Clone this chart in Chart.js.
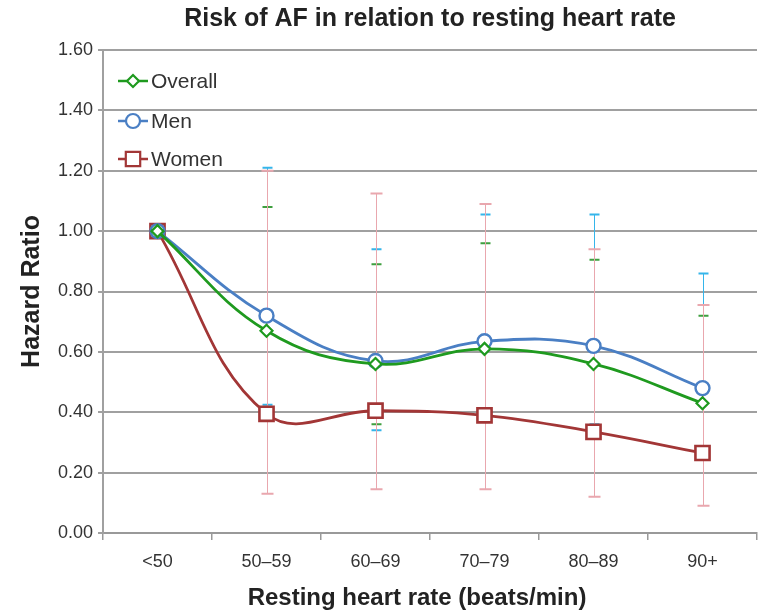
<!DOCTYPE html>
<html>
<head>
<meta charset="utf-8">
<script src="https://cdn.jsdelivr.net/npm/chart.js@4.4.1/dist/chart.umd.min.js"></script>
<style>
html,body{margin:0;padding:0;background:#fff;}
#wrap{width:763px;height:611px;position:relative;}
</style>
</head>
<body>
<div id="wrap"><canvas id="c" width="763" height="611"></canvas></div>
<script>
const categories = ['<50', '50\u201359', '60\u201369', '70\u201379', '80\u201389', '90+'];
const overall = [1.00, 0.67, 0.56, 0.61, 0.56, 0.43];
const men = [1.00, 0.72, 0.57, 0.635, 0.62, 0.48];
const women = [1.00, 0.395, 0.405, 0.39, 0.335, 0.265];
const overallUpper = [null, 1.08, 0.89, 0.96, 0.905, 0.72];
const overallLower = [null, 0.41, 0.36, 0.39, 0.345, 0.25];
const menUpper = [null, 1.21, 0.94, 1.055, 1.055, 0.86];
const menLower = [null, 0.425, 0.34, 0.39, 0.36, 0.27];
const womenUpper = [null, 1.20, 1.125, 1.09, 0.94, 0.755];
const womenLower = [null, 0.13, 0.145, 0.145, 0.12, 0.09];
const yTicks = [0, 0.2, 0.4, 0.6, 0.8, 1.0, 1.2, 1.4, 1.6];
const chartTitle = 'Risk of AF in relation to resting heart rate';
const xTitle = 'Resting heart rate (beats/min)';
const yTitle = 'Hazard Ratio';

const FONT = "'Liberation Sans', Arial, sans-serif";

const errorBars = [
  {upper: menUpper, lower: menLower, color: '#35b5ea', cap: 5, ds: 1},
  {upper: overallUpper, lower: overallLower, color: '#3f9f3f', cap: 5, ds: 0},
  {upper: womenUpper, lower: womenLower, color: '#e9a7ae', cap: 6, ds: 2}
];

const errorPlugin = {
  id: 'errorBars',
  beforeDatasetsDraw(chart) {
    const ctx = chart.ctx, xs = chart.scales.x, ys = chart.scales.y;
    ctx.save();
    errorBars.forEach(eb => {
      ctx.strokeStyle = eb.color;
      for (let i = 0; i < categories.length; i++) {
        if (eb.upper[i] == null) continue;
        const x = Math.round(xs.getPixelForValue(i)) + 0.5;
        const yu = ys.getPixelForValue(eb.upper[i]);
        const yl = ys.getPixelForValue(eb.lower[i]);
        ctx.lineWidth = 1;
        ctx.beginPath();
        ctx.moveTo(x, yu); ctx.lineTo(x, yl);
        ctx.stroke();
        ctx.lineWidth = 2;
        ctx.beginPath();
        ctx.moveTo(x - eb.cap, yu); ctx.lineTo(x + eb.cap, yu);
        ctx.moveTo(x - eb.cap, yl); ctx.lineTo(x + eb.cap, yl);
        ctx.stroke();
      }
    });
    ctx.restore();
  }
};

const titlePlugin = {
  id: 'customTitle',
  afterDraw(chart) {
    const ctx = chart.ctx, a = chart.chartArea;
    ctx.save();
    ctx.fillStyle = '#222';
    ctx.textAlign = 'center';
    ctx.textBaseline = 'middle';
    ctx.font = "bold 25px " + FONT;
    ctx.fillText(chartTitle, (a.left + a.right) / 2, 19);
    ctx.font = "bold 24px " + FONT;
    ctx.fillText(xTitle, (a.left + a.right) / 2 - 13, 598);
    ctx.restore();
  }
};

const legendPlugin = {
  id: 'insideLegend',
  afterDraw(chart) {
    const ctx = chart.ctx;
    const items = [
      {ds: 0, y: 81}, {ds: 1, y: 121}, {ds: 2, y: 159}
    ];
    ctx.save();
    items.forEach(it => {
      const d = chart.data.datasets[it.ds];
      ctx.strokeStyle = d.borderColor;
      ctx.lineWidth = 2.5;
      ctx.beginPath();
      ctx.moveTo(118, it.y); ctx.lineTo(148, it.y);
      ctx.stroke();
      ctx.fillStyle = '#fff';
      ctx.lineWidth = 2.2;
      const cx = 133, cy = it.y, r = d.pointRadius;
      ctx.beginPath();
      if (d.pointStyle === 'circle') {
        ctx.arc(cx, cy, r, 0, Math.PI * 2);
      } else if (d.pointStyle === 'rectRot') {
        ctx.moveTo(cx, cy - r); ctx.lineTo(cx + r, cy); ctx.lineTo(cx, cy + r); ctx.lineTo(cx - r, cy); ctx.closePath();
      } else {
        const s = r * 0.72;
        ctx.rect(cx - s, cy - s, 2 * s, 2 * s);
      }
      ctx.fill(); ctx.stroke();
      ctx.fillStyle = '#333';
      ctx.font = "21px " + FONT;
      ctx.textAlign = 'left';
      ctx.textBaseline = 'middle';
      ctx.fillText(d.label, 151, it.y + 1);
    });
    ctx.restore();
  }
};

new Chart(document.getElementById('c'), {
  type: 'line',
  data: {
    labels: categories,
    datasets: [
      {label: 'Overall', data: overall, borderColor: '#1f9a1f', borderWidth: 2.8, pointStyle: 'rectRot', pointRadius: 6, pointBorderWidth: 2.2, pointBackgroundColor: '#fff', pointBorderColor: '#1f9a1f', tension: 0.4, fill: false},
      {label: 'Men', data: men, borderColor: '#4a7fc4', borderWidth: 2.8, pointStyle: 'circle', pointRadius: 7, pointBorderWidth: 2.4, pointBackgroundColor: '#fff', pointBorderColor: '#4a7fc4', tension: 0.4, fill: false},
      {label: 'Women', data: women, borderColor: '#a23636', borderWidth: 2.8, pointStyle: 'rect', pointRadius: 10, pointBorderWidth: 2.6, pointBackgroundColor: '#fff', pointBorderColor: '#a23636', tension: 0.4, fill: false}
    ]
  },
  options: {
    responsive: false,
    animation: false,
    devicePixelRatio: 1,
    layout: {autoPadding: false, padding: {top: 50, right: 6, left: 0, bottom: 0}},
    plugins: {legend: {display: false}, title: {display: false}, tooltip: {enabled: false}},
    scales: {
      x: {
        type: 'category',
        offset: true,
        grid: {display: true, offset: true, drawOnChartArea: false, drawTicks: true, tickLength: 7, color: '#999', lineWidth: 1.5},
        border: {display: true, color: '#999', width: 2},
        ticks: {color: '#333', font: {family: FONT, size: 18}, padding: 11, maxRotation: 0},
        title: {display: false},
        afterFit(s) { s.height = 78; s.paddingLeft = 0; s.paddingRight = 0; }
      },
      y: {
        min: 0, max: 1.6,
        afterBuildTicks(s) { s.ticks = yTicks.map(v => ({value: v})); },
        grid: {color: '#a0a0a0', lineWidth: 2, drawTicks: true, tickLength: 5},
        border: {display: true, color: '#a0a0a0', width: 2},
        ticks: {color: '#333', font: {family: FONT, size: 18}, padding: 5, callback: v => Number(v).toFixed(2)},
        title: {display: true, text: yTitle, color: '#222', font: {family: FONT, size: 25, weight: 'bold'}, padding: {top: 17, bottom: 0}},
        afterFit(s) { s.width = 103; }
      }
    }
  },
  plugins: [errorPlugin, titlePlugin, legendPlugin]
});
</script>
</body>
</html>
